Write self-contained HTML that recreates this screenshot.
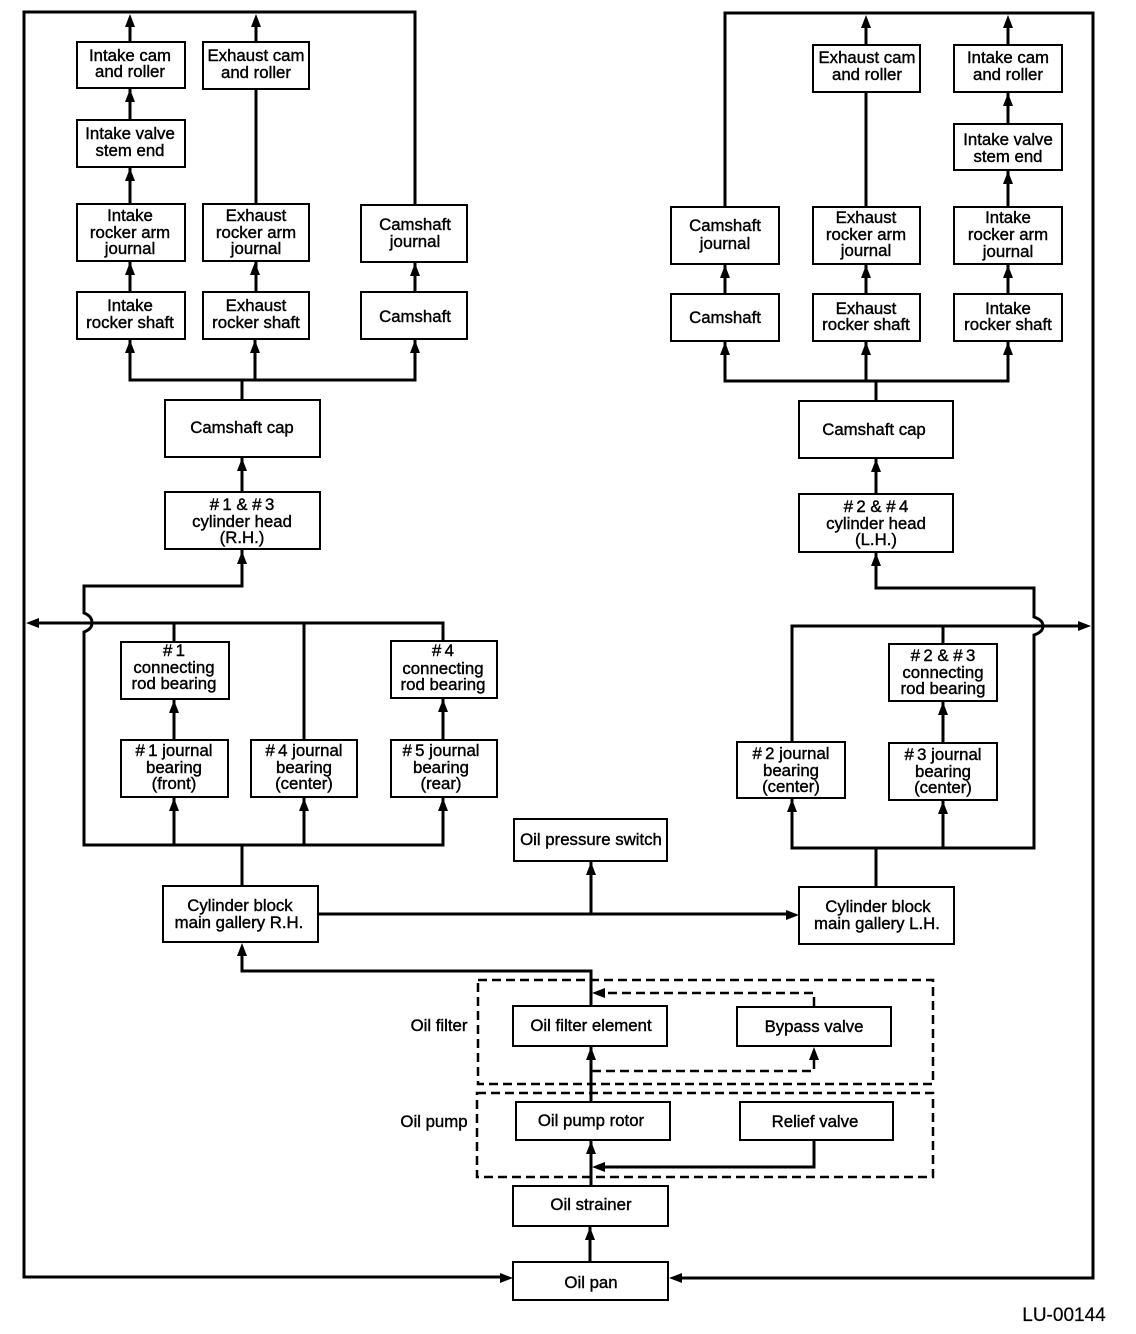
<!DOCTYPE html>
<html><head><meta charset="utf-8"><style>
html,body{margin:0;padding:0;background:#fff}
svg{display:block}
text{font-family:"Liberation Sans",sans-serif;font-size:16.8px;text-anchor:middle;fill:#000;stroke:#000;stroke-width:.4}
.b{fill:#fff;stroke:#000;stroke-width:2}
.l{fill:none;stroke:#000;stroke-width:3}
.d{fill:none;stroke:#000;stroke-width:2.5;stroke-dasharray:9 5}
</style></head><body>
<svg width="1136" height="1334" viewBox="0 0 1136 1334" xmlns="http://www.w3.org/2000/svg">
<defs>
<path id="u" d="M0 0l-5 13h10z"/>
<path id="r" d="M0 0l-13 -5v10z"/>
<path id="w" d="M0 0l13 -5v10z"/>
</defs>
<g class="l">
<path class="l" d="M415 205V12H24V1277H505"/>
<path class="l" d="M725 207V13H1093V1278H675"/>
<path class="l" d="M130 42V20M256 42V20M130 120V88M130 204V167M256 204V89M130 292V261M256 292V261M415 292V262"/>
<path class="l" d="M130 339V380H415V339M255 339V380M242 380V400M242 457V492"/>
<path class="l" d="M866 45V20M1008 45V20M1008 124V92M1008 207V170M866 207V92M725 294V264M866 294V264M1008 294V264"/>
<path class="l" d="M725 341V381H1008V341M866 341V381M876 381V401M876 458V494"/>
<path class="l" d="M242 550V586H84V613Q92 616 92 623Q92 629 84 632V845H443V797M174 845V797M304 845V797M242 845V886"/>
<path class="l" d="M30 623H443V641M174 623V642M304 623V740M174 699V740M443 698V740"/>
<path class="l" d="M876 552V588H1034V617Q1043 620 1043 626Q1043 632 1034 635V848H792V798M943 848V800M876 848V887"/>
<path class="l" d="M792 742V626H1086M943 626V644M943 701V743"/>
<path class="l" d="M318 914H790M591 914V861M591 1006V971H242V950"/>
<path class="l" d="M591 1102V1046M591 1186V1140M814 1140V1167H600M590 1262V1226"/>
</g>
<path class="d" d="M478 980H933V1084H478Z"/>
<path class="d" d="M477 1093H933V1177H477Z"/>
<path class="d" d="M814 1006V993H600M592 1071H814V1058"/>
<g>
<use href="#u" x="130" y="14"/><use href="#u" x="256" y="14"/><use href="#u" x="130" y="89"/><use href="#u" x="130" y="168"/><use href="#u" x="130" y="262"/><use href="#u" x="255" y="262"/><use href="#u" x="415" y="263"/>
<use href="#u" x="130" y="340"/><use href="#u" x="255" y="340"/><use href="#u" x="415" y="340"/><use href="#u" x="242" y="458"/><use href="#u" x="242" y="551"/>
<use href="#u" x="866" y="15"/><use href="#u" x="1008" y="15"/><use href="#u" x="1008" y="93"/><use href="#u" x="1008" y="171"/><use href="#u" x="725" y="265"/><use href="#u" x="866" y="265"/><use href="#u" x="1008" y="265"/>
<use href="#u" x="725" y="342"/><use href="#u" x="866" y="342"/><use href="#u" x="1008" y="342"/><use href="#u" x="876" y="459"/><use href="#u" x="876" y="553"/>
<use href="#u" x="174" y="700"/><use href="#u" x="174" y="798"/><use href="#u" x="304" y="798"/><use href="#u" x="443" y="699"/><use href="#u" x="443" y="798"/>
<use href="#u" x="943" y="702"/><use href="#u" x="943" y="801"/><use href="#u" x="792" y="799"/>
<use href="#u" x="591" y="862"/><use href="#u" x="242" y="943"/><use href="#u" x="591" y="1047"/><use href="#u" x="814" y="1047"/><use href="#u" x="591" y="1141"/><use href="#u" x="590" y="1227"/>
<use href="#w" x="26" y="623"/><use href="#r" x="1091" y="626"/><use href="#r" x="799" y="915"/><use href="#r" x="513" y="1278"/><use href="#w" x="669" y="1278"/><use href="#w" x="592" y="993"/><use href="#w" x="592" y="1167"/>
</g>
<rect class="b" x="77" y="42" width="108" height="46"/>
<rect class="b" x="203" y="42" width="106" height="47"/>
<rect class="b" x="77" y="120" width="108" height="47"/>
<rect class="b" x="77" y="204" width="108" height="57"/>
<rect class="b" x="203" y="204" width="106" height="57"/>
<rect class="b" x="361" y="205" width="106" height="57"/>
<rect class="b" x="77" y="292" width="108" height="47"/>
<rect class="b" x="203" y="292" width="106" height="47"/>
<rect class="b" x="361" y="292" width="106" height="47"/>
<rect class="b" x="165" y="400" width="155" height="57"/>
<rect class="b" x="165" y="492" width="155" height="57"/>
<rect class="b" x="121" y="642" width="108" height="57"/>
<rect class="b" x="391" y="641" width="106" height="57"/>
<rect class="b" x="121" y="740" width="107" height="57"/>
<rect class="b" x="251" y="740" width="106" height="57"/>
<rect class="b" x="391" y="740" width="106" height="57"/>
<rect class="b" x="514" y="819" width="153" height="42"/>
<rect class="b" x="163" y="886" width="155" height="56"/>
<rect class="b" x="799" y="887" width="155" height="57"/>
<rect class="b" x="513" y="1006" width="154" height="40"/>
<rect class="b" x="737" y="1007" width="154" height="39"/>
<rect class="b" x="516" y="1102" width="154" height="38"/>
<rect class="b" x="740" y="1102" width="153" height="38"/>
<rect class="b" x="513" y="1186" width="155" height="40"/>
<rect class="b" x="513" y="1262" width="155" height="38"/>
<rect class="b" x="813" y="45" width="107" height="47"/>
<rect class="b" x="954" y="45" width="108" height="47"/>
<rect class="b" x="954" y="124" width="108" height="46"/>
<rect class="b" x="671" y="207" width="108" height="57"/>
<rect class="b" x="813" y="207" width="107" height="57"/>
<rect class="b" x="954" y="207" width="108" height="57"/>
<rect class="b" x="671" y="294" width="108" height="47"/>
<rect class="b" x="813" y="294" width="107" height="47"/>
<rect class="b" x="954" y="294" width="108" height="47"/>
<rect class="b" x="799" y="401" width="154" height="57"/>
<rect class="b" x="799" y="494" width="154" height="58"/>
<rect class="b" x="889" y="644" width="108" height="57"/>
<rect class="b" x="889" y="743" width="108" height="57"/>
<rect class="b" x="737" y="742" width="108" height="56"/>

<text x="130" y="61">Intake cam</text><text x="130" y="77">and roller</text>
<text x="256" y="61">Exhaust cam</text><text x="256" y="78">and roller</text>
<text x="130" y="139">Intake valve</text><text x="130" y="156">stem end</text>
<text x="130" y="221">Intake</text><text x="130" y="238">rocker arm</text><text x="130" y="254">journal</text>
<text x="256" y="221">Exhaust</text><text x="256" y="238">rocker arm</text><text x="256" y="254">journal</text>
<text x="415" y="230">Camshaft</text><text x="415" y="247">journal</text>
<text x="130" y="311">Intake</text><text x="130" y="328">rocker shaft</text>
<text x="256" y="311">Exhaust</text><text x="256" y="328">rocker shaft</text>
<text x="415" y="322">Camshaft</text>
<text x="242" y="433">Camshaft cap</text>
<text x="242" y="510">#&#8201;1 &amp; #&#8201;3</text><text x="242" y="527">cylinder head</text><text x="242" y="543">(R.H.)</text>
<text x="174" y="656">#&#8201;1</text><text x="174" y="673">connecting</text><text x="174" y="689">rod bearing</text>
<text x="443" y="656">#&#8201;4</text><text x="443" y="674">connecting</text><text x="443" y="690">rod bearing</text>
<text x="174" y="756">#&#8201;1 journal</text><text x="174" y="773">bearing</text><text x="174" y="789">(front)</text>
<text x="304" y="756">#&#8201;4 journal</text><text x="304" y="773">bearing</text><text x="304" y="789">(center)</text>
<text x="441" y="756">#&#8201;5 journal</text><text x="441" y="773">bearing</text><text x="441" y="789">(rear)</text>
<text x="591" y="845">Oil pressure switch</text>
<text x="240" y="911">Cylinder block</text><text x="239" y="928">main gallery R.H.</text>
<text x="878" y="912">Cylinder block</text><text x="877" y="929">main gallery L.H.</text>
<text x="591" y="1031">Oil filter element</text>
<text x="814" y="1032">Bypass valve</text>
<text x="591" y="1126">Oil pump rotor</text>
<text x="815" y="1127">Relief valve</text>
<text x="591" y="1210">Oil strainer</text>
<text x="591" y="1288">Oil pan</text>
<text x="439" y="1031">Oil filter</text>
<text x="434" y="1127">Oil pump</text>
<text x="867" y="63">Exhaust cam</text><text x="867" y="80">and roller</text>
<text x="1008" y="63">Intake cam</text><text x="1008" y="80">and roller</text>
<text x="1008" y="145">Intake valve</text><text x="1008" y="162">stem end</text>
<text x="725" y="231">Camshaft</text><text x="725" y="249">journal</text>
<text x="866" y="223">Exhaust</text><text x="866" y="240">rocker arm</text><text x="866" y="256">journal</text>
<text x="1008" y="223">Intake</text><text x="1008" y="240">rocker arm</text><text x="1008" y="257">journal</text>
<text x="725" y="323">Camshaft</text>
<text x="866" y="314">Exhaust</text><text x="866" y="330">rocker shaft</text>
<text x="1008" y="314">Intake</text><text x="1008" y="330">rocker shaft</text>
<text x="874" y="435">Camshaft cap</text>
<text x="876" y="512">#&#8201;2 &amp; #&#8201;4</text><text x="876" y="529">cylinder head</text><text x="876" y="545">(L.H.)</text>
<text x="943" y="661">#&#8201;2 &amp; #&#8201;3</text><text x="943" y="678">connecting</text><text x="943" y="694">rod bearing</text>
<text x="943" y="760">#&#8201;3 journal</text><text x="943" y="777">bearing</text><text x="943" y="793">(center)</text>
<text x="791" y="759">#&#8201;2 journal</text><text x="791" y="776">bearing</text><text x="791" y="792">(center)</text>
<text x="1064" y="1321" style="font-size:19px;stroke-width:.2">LU-00144</text>
</svg>
</body></html>
